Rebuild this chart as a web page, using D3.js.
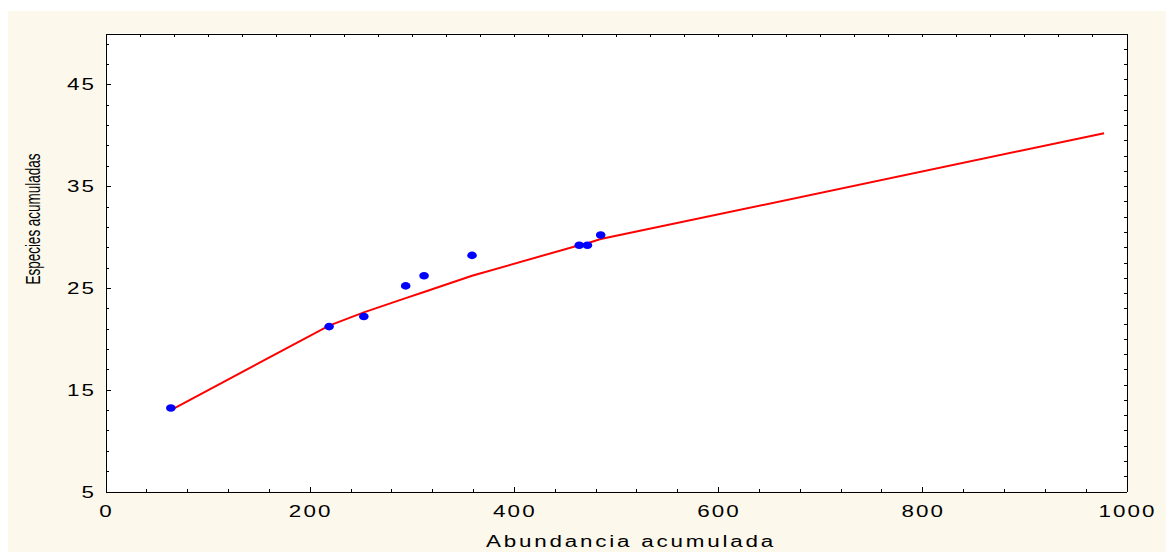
<!DOCTYPE html>
<html>
<head>
<meta charset="utf-8">
<script src="https://cdn.jsdelivr.net/npm/d3@7"></script>
<style>
  body { margin: 0; background: #fff; }
  svg { display: block; }
  text { font-family: "Liberation Sans", Arial, sans-serif; fill: #000; }
  .axis path, .axis line { stroke: #000; shape-rendering: crispEdges; }
</style>
</head>
<body>
<script>
// observed points
var abundancia = [64, 219, 253, 294, 312, 359, 464, 472, 485];
var especies = [13.2, 21.2, 22.2, 25.2, 26.2, 28.2, 29.2, 29.2, 30.2];

// fitted curve as drawn
var curvaX = [64, 219, 253, 294, 312, 359, 464, 472, 485, 978];
var curvaY = [13.0, 21.3, 22.6, 24.0, 24.6, 26.2, 29.2, 29.4, 29.8, 40.2];

var xTickLabels = [0, 200, 400, 600, 800, 1000];
var yTickLabels = [5, 15, 25, 35, 45];

let W = 1166, H = 552;
let svg = d3.select("body")
            .append("svg")
            .attr("width", W)
            .attr("height", H);

// cream panel
svg.append("rect")
    .attr("x", 8).attr("y", 11)
    .attr("width", W - 8).attr("height", H - 11)
    .attr("fill", "#fcf8ec");

let x = d3.scaleLinear().domain([0, 1000]).range([105.5, 1126.5]);
let y = d3.scaleLinear().domain([5, 50]).range([491.5, 33.5]);

// plot area
svg.append("rect")
    .attr("x", x(0)).attr("y", y(50))
    .attr("width", x(1000) - x(0))
    .attr("height", y(5) - y(50))
    .attr("fill", "#fff");

// axes: ticks point inward
svg.append("g").attr("class", "axis")
    .attr("transform", "translate(0," + y(5) + ")")
    .call(d3.axisBottom(x).tickValues(d3.range(0, 1001, 40)).tickSizeInner(-3).tickSizeOuter(0).tickFormat(""));
svg.append("g").attr("class", "axis")
    .attr("transform", "translate(0," + y(5) + ")")
    .call(d3.axisBottom(x).tickValues(xTickLabels).tickSizeInner(-5).tickSizeOuter(0).tickFormat(""));

svg.append("g").attr("class", "axis")
    .attr("transform", "translate(0," + y(50) + ")")
    .call(d3.axisTop(x).tickValues(d3.range(0, 30).map(i => i * 1000 / 30)).tickSizeInner(-3).tickSizeOuter(0).tickFormat(""));

svg.append("g").attr("class", "axis")
    .attr("transform", "translate(" + x(0) + ",0)")
    .call(d3.axisLeft(y).tickValues(d3.range(5, 51, 2)).tickSizeInner(-3).tickSizeOuter(0).tickFormat(""));
svg.append("g").attr("class", "axis")
    .attr("transform", "translate(" + x(0) + ",0)")
    .call(d3.axisLeft(y).tickValues(yTickLabels).tickSizeInner(-5).tickSizeOuter(0).tickFormat(""));

svg.append("g").attr("class", "axis")
    .attr("transform", "translate(" + x(1000) + ",0)")
    .call(d3.axisRight(y).tickValues(d3.range(0, 31).map(i => 5 + i * 1.5)).tickSizeInner(-3).tickSizeOuter(0).tickFormat(""));

// tick labels (stretched like the source)
svg.selectAll(".xlab")
    .data(xTickLabels)
    .enter().append("text")
    .attr("transform", d => "translate(" + (x(d) + 1) + ",517) scale(1.4,1)")
    .attr("text-anchor", "middle")
    .attr("font-size", 16)
    .attr("letter-spacing", 1.5)
    .text(d => d);

svg.selectAll(".ylab")
    .data(yTickLabels)
    .enter().append("text")
    .attr("transform", d => "translate(96," + (y(d) + 6) + ") scale(1.4,1)")
    .attr("text-anchor", "end")
    .attr("font-size", 16)
    .attr("letter-spacing", 1.5)
    .text(d => d);

// axis titles
svg.append("text")
    .attr("transform", "translate(631,547) scale(1.4,1)")
    .attr("text-anchor", "middle")
    .attr("font-size", 16)
    .attr("letter-spacing", 2)
    .text("Abundancia acumulada");

svg.append("text")
    .attr("transform", "translate(40,219) rotate(-90) scale(1,1.55)")
    .attr("text-anchor", "middle")
    .attr("font-size", 13.5)
    .text("Especies acumuladas");

// fitted line
let line = d3.line()
            .x(d => x(d[0]))
            .y(d => y(d[1]));

svg.append("path")
    .datum(curvaX.map((v, i) => [v, curvaY[i]]))
    .attr("d", line)
    .attr("fill", "none")
    .attr("stroke", "#ff0000")
    .attr("stroke-width", 2);

// points
svg.selectAll(".pt")
    .data(abundancia)
    .enter().append("ellipse")
    .attr("cx", d => x(d))
    .attr("cy", (d, i) => y(especies[i]))
    .attr("rx", 4.8)
    .attr("ry", 3.8)
    .attr("fill", "#0000ff");
</script>
</body>
</html>
